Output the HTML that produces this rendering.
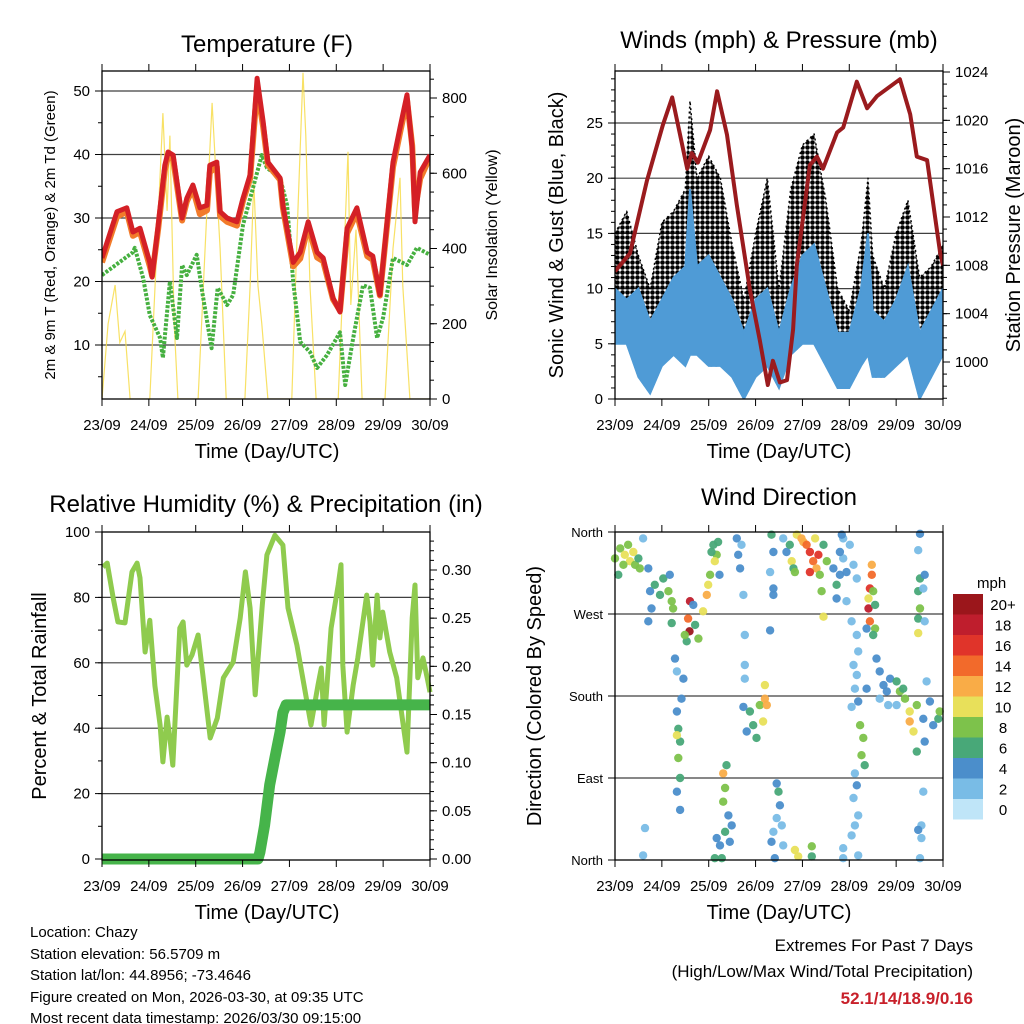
<!DOCTYPE html>
<html><head><meta charset="utf-8">
<style>
html,body{margin:0;padding:0;background:#fff;}
svg{display:block;font-family:"Liberation Sans",Arial,sans-serif;}
</style></head>
<body>
<svg id="chart" width="1024" height="1024" viewBox="0 0 1024 1024" xmlns="http://www.w3.org/2000/svg">
<defs>
<pattern id="dots" width="5" height="5" patternUnits="userSpaceOnUse"><circle cx="2.5" cy="2.5" r="2.3" fill="#000"/></pattern>
</defs>
<rect x="0" y="0" width="1024" height="1024" fill="#fff"/>
<g id="g1"></g>
<g id="g2"></g>
<g id="g3"></g>
<g id="g4"></g>
<g id="info" font-size="15" fill="#000">
<text x="30" y="937">Location: Chazy</text>
<text x="30" y="959">Station elevation: 56.5709 m</text>
<text x="30" y="980">Station lat/lon: 44.8956; -73.4646</text>
<text x="30" y="1002">Figure created on Mon, 2026-03-30, at 09:35 UTC</text>
<text x="30" y="1023">Most recent data timestamp: 2026/03/30 09:15:00</text>
</g>
<g id="extremes" text-anchor="end" font-size="17">
<text x="973" y="951">Extremes For Past 7 Days</text>
<text x="973" y="977">(High/Low/Max Wind/Total Precipitation)</text>
<text x="973" y="1004" fill="#c8202a" font-weight="bold">52.1/14/18.9/0.16</text>
</g>
</svg>
<script>
// ---------- data ----------
const dayLabels = ["23/09","24/09","25/09","26/09","27/09","28/09","29/09","30/09"];
// Temperature
const tempTime = [0,0.32,0.53,0.66,0.81,1.02,1.07,1.2,1.34,1.41,1.52,1.71,1.81,1.94,2.09,2.24,2.3,2.45,2.52,2.67,2.88,3.01,3.16,3.31,3.44,3.54,3.8,3.86,4.08,4.23,4.4,4.59,4.72,4.93,5.08,5.23,5.44,5.66,5.78,5.93,6.21,6.36,6.51,6.62,6.68,6.79,7];
const temp2m = [23.7,31,31.6,27.8,28.4,23,20.7,28.9,38.3,40.4,39.9,30,33.1,35.2,31.6,32,38.3,38.8,31,30,29.4,33.1,36.8,52,45.1,38.8,36.3,32,23,24.6,29.4,24.6,23.7,17.4,15.2,28.4,31.6,24.6,24,17.9,38.8,44.2,49.4,41,29.4,37.2,39.9];
const temp9m = [23,30.2,31,27.2,27.8,22.4,20.9,28.3,37.5,39.8,39.2,29.6,32.6,34.6,30.6,31.2,37.2,38.1,30.3,29.4,28.8,32.7,36.2,50.5,44.3,38.4,36,31.6,22.4,23.6,28.7,23.8,23.2,17.2,15.4,27.6,30.8,24,23.4,17.8,38,43.4,48.6,41.4,31.2,36.2,39.6];
const dewTime = [0,0.66,0.7,0.88,1.02,1.24,1.3,1.45,1.6,1.71,1.81,2.02,2.15,2.34,2.47,2.67,2.8,3.01,3.22,3.41,3.52,3.8,3.95,4.08,4.23,4.44,4.59,4.8,5.08,5.19,5.36,5.57,5.72,5.87,6.0,6.21,6.51,6.72,7];
const dewPt = [21,24.6,25.3,20.5,14.7,11.1,8,20,11.1,22.6,21,24.2,17.9,9.5,19,16.3,17.9,28.9,34.7,39.9,37.9,36.3,32,20,10.5,8.9,6.4,8.4,12,3.7,11.1,19.4,19,11.1,14.3,23.7,22.6,25.3,24.2];
const solarTime = [0,0.13,0.28,0.38,0.49,0.6,1.02,1.17,1.3,1.39,1.45,1.54,1.62,2.05,2.2,2.35,2.43,2.52,2.65,3.05,3.16,3.24,3.33,3.41,3.54,4.05,4.18,4.29,4.35,4.44,4.57,5.04,5.14,5.25,5.31,5.42,5.55,6.04,6.21,6.36,6.42,6.57,7];
const solarVal = [0,200,303,150,180,0,0,400,760,500,700,200,0,0,400,787,600,400,0,0,300,577,300,200,0,0,500,867,700,300,0,0,300,657,250,450,0,0,400,588,300,0,0];
const tempTicks = [10,20,30,40,50];
const solarTicks = [0,200,400,600,800];
// Winds & pressure
const windTime = [0,0.25,0.5,0.75,1.0,1.25,1.5,1.6,1.75,2.0,2.25,2.5,2.75,3.0,3.25,3.5,3.75,4.0,4.25,4.5,4.75,5.0,5.25,5.4,5.5,5.75,6.0,6.25,6.5,6.75,7.0];
const windLow = [5,5,2,0.5,3,4,3,4,4,3,3,2,0,2,3,1,4,5,5,3,1,1,3,4,2,2,3,4,0,2,4];
const windHigh = [10,9,10,7,9,11,12,19,12,13,11,9,6,9,10,6,10,13,14,10,6,6,10,15,8,7,9,12,6,8,10];
const gustHigh = [15,17,13,10,16,17,19,27,20,22,20,14,9,15,20,10,19,23,24,18,10,8,14,20,13,10,15,18,11,12,14];
const presTime = [0,0.32,0.68,1.02,1.22,1.54,1.64,1.77,2.03,2.18,2.39,2.6,2.88,3.09,3.26,3.37,3.52,3.67,3.8,3.88,4.16,4.31,4.44,4.74,4.87,5.16,5.38,5.59,6.08,6.3,6.44,6.66,6.94,7];
const pressure = [1007.5,1009,1015,1019.6,1021.9,1016,1017.3,1016.5,1019.2,1022.4,1018.8,1013,1006,1001.8,998.1,1000.1,998.3,998.5,1002.7,1008,1016.3,1017,1016,1019,1019.4,1023.2,1021,1022,1023.4,1020.5,1017,1016.7,1009,1008];
const windTicks = [0,5,10,15,20,25];
const presTicks = [1000,1004,1008,1012,1016,1020,1024];
// RH & precip
const rhTime = [0.02,0.11,0.24,0.34,0.49,0.64,0.75,0.81,0.92,1.02,1.13,1.24,1.3,1.39,1.45,1.51,1.66,1.73,1.81,1.92,2.05,2.16,2.31,2.46,2.59,2.8,2.95,3.06,3.16,3.27,3.42,3.52,3.69,3.86,3.97,4.16,4.31,4.46,4.61,4.68,4.74,4.89,5.04,5.1,5.14,5.23,5.36,5.46,5.65,5.72,5.78,5.87,5.93,5.99,6.14,6.29,6.42,6.51,6.62,6.68,6.74,6.85,6.94,7];
const rhVal = [89.3,90.5,79.8,72.5,72.2,87.8,90.5,86,63.3,73,53,41,29.7,43.4,37,28.7,70.6,72.5,59.3,62.4,68.5,55.4,37,43.1,55.4,60.2,73.7,87.8,76.8,50.2,77.7,93,99,96,76.8,65.4,53.2,41,53.2,58.4,41,70.6,83.8,90,59.3,38.8,53.2,61.5,80.7,72.5,59.3,80.7,67.6,75.5,63.3,55.4,41.9,32.7,73.7,83.8,55.4,61.5,55.4,51];
const precTime = [0,3.33,3.37,3.47,3.58,3.69,3.8,3.86,3.93,7];
const precVal = [0,0,0.007,0.035,0.077,0.105,0.132,0.152,0.16,0.16];
const rhTicks = [0,20,40,60,80,100];
const precTicks = [0,0.05,0.1,0.15,0.2,0.25,0.3];
// Wind direction
const dirTime = [0,0.11,0.21,0.28,0.32,0.43,0.5,0.07,0.18,0.39,0.53,0.6,
0.71,0.75,0.78,0.71,0.85,0.96,1.03,1.14,1.21,1.24,1.17,1.21,
1.6,1.56,1.59,1.53,1.71,1.78,1.88,1.96,1.99,2.03,1.67,1.49,
1.28,1.32,1.46,1.42,1.32,1.35,1.39,1.35,1.39,1.32,1.39,1.32,0.64,0.6,
2.1,2.17,2.13,2.2,2.23,2.06,
2.31,2.38,2.35,2.31,2.42,2.49,2.17,2.24,2.35,2.45,2.13,2.28,
2.6,2.63,2.67,2.7,2.74,2.77,2.77,2.77,
2.88,2.95,3.02,3.09,3.2,3.24,3.16,3.2,2.81,2.74,
3.45,3.49,3.52,3.45,3.38,3.56,3.59,3.41,3.34,
3.34,3.38,3.59,3.66,3.77,3.81,3.73,3.31,3.38,3.38,3.31,
3.88,4.02,4.09,4.16,4.23,4.3,4.37,4.16,4.34,4.45,4.52,4.41,4.45,4.27,3.98,3.84,
4.66,4.73,4.8,4.87,4.94,5.01,4.87,4.84,5.09,4.73,4.94,4.8,5.16,
5.05,5.16,5.19,5.09,5.16,5.12,5.19,5.05,5.23,5.3,5.26,5.33,5.12,5.16,5.09,5.19,5.12,5.05,5.19,4.87,5.37,
5.48,5.48,5.44,5.41,5.41,5.51,5.44,5.55,5.51,5.37,5.55,
5.58,5.65,5.73,5.8,5.87,6.01,6.08,6.15,6.19,6.01,5.65,6.29,6.29,6.37,6.44,6.58,6.72,6.79,6.9,6.93,6.65,6.44,6.61,5.83,
6.51,6.47,6.51,6.47,6.51,6.47,6.47,6.61,6.58,6.61,
3.84,3.91,4.2,4.2,
6.58,6.54,6.47,6.54,6.51,4.87];
const dirDeg = [331,342,335,346,328,324,331,313,324,338,320,353,
320,295,276,262,302,291,309,295,284,276,313,260,
284,265,251,240,258,243,273,291,302,313,280,247,
221,207,199,177,163,144,130,112,90,75,55,137,35,5,
346,335,328,349,313,338,
95,104,79,64,49,38,24,16,31,20,2,2,
353,335,320,346,291,247,214,199,
163,148,134,170,177,170,152,192,141,168,
84,75,60,46,31,38,16,2,20,
357,338,353,338,328,320,346,316,298,291,252,
357,349,346,338,328,320,313,316,335,346,328,295,267,353,353,316,
320,302,313,331,316,346,353,357,324,287,284,338,309,
262,247,229,214,203,188,174,168,148,134,115,104,95,82,68,49,38,27,5,13,188,
324,313,298,287,276,295,262,254,247,254,280,
221,207,192,185,199,196,185,188,177,170,177,163,152,141,170,155,174,148,155,163,196,119,130,170,
358,340,309,295,276,265,249,262,298,313,
11,4,15,4,
75,38,33,24,2,2];
const dirSpeed = [8,8,10,8,10,8,6,6,8,10,8,2,
4,4,4,4,6,6,6,8,8,8,4,6,
18,14,20,6,6,8,10,12,10,8,4,8,
4,2,4,4,4,6,6,8,6,4,4,10,2,2,
6,8,10,6,4,6,
12,6,8,8,4,4,4,4,6,4,6,6,
4,4,4,2,2,2,2,2,
6,6,6,8,12,12,10,10,4,4,
4,6,4,2,2,2,2,4,4,
6,4,2,4,10,6,6,2,4,4,4,
10,12,14,16,14,12,8,16,16,6,8,8,10,10,12,8,
4,6,4,2,4,2,2,4,2,4,2,4,2,
2,2,2,2,2,2,4,2,8,8,8,6,2,4,2,2,2,2,2,2,4,
12,14,16,10,18,8,14,8,6,4,6,
4,4,4,4,4,6,8,6,8,2,2,10,12,10,8,4,4,4,6,8,2,6,4,2,
4,2,6,6,8,6,10,2,2,4,
10,10,8,6,
2,2,4,2,2,2];
const dirTickLabels = ["North","East","South","West","North"];
const dirTickVals = [0,90,180,270,360];
const speedLabels = ["20+","18","16","14","12","10","8","6","4","2","0"];
const speedColors = ["#9b161b","#bf1e2d","#e0342a","#f26a2b","#f9ac47","#e8e05a","#7dc24b","#48a878","#4b8ecb","#79bce6","#bfe5f8"];

// ---------- helpers ----------
const NS = "http://www.w3.org/2000/svg";
function mk(parent, tag, attrs, text){
  const e = document.createElementNS(NS, tag);
  for (const k in attrs) e.setAttribute(k, attrs[k]);
  if (text !== undefined) e.textContent = text;
  parent.appendChild(e);
  return e;
}
function lin(d0,d1,r0,r1){ return v => r0 + (v-d0)/(d1-d0)*(r1-r0); }
function pathOf(xs, ys){ return xs.map((x,i)=>(i?"L":"M")+x.toFixed(1)+","+ys[i].toFixed(1)).join(""); }

function frame(g, L, T, R, B, xs){
  dayLabels.forEach((lab,i)=>{
    const x = xs(i);
    const t1 = mk(g,"line",{x1:x,y1:B,x2:x,y2:B+7,stroke:"#000","stroke-width":1});
    
    
    const t2 = mk(g,"line",{x1:x,y1:T,x2:x,y2:T-7,stroke:"#000","stroke-width":1});
    
    
    const tl = mk(g,"text",{x:x,y:B+31,"text-anchor":"middle","font-size":15},lab);
    
    
  });
}
function box(g,L,T,R,B){
  const r = mk(g,"rect",{x:L,y:T,width:R-L,height:B-T,fill:"none",stroke:"#000","stroke-width":1.3});
  
  
}
function grid(g, L, R, ys, vals){
  vals.forEach(v=>{
    const l = mk(g,"line",{x1:L,x2:R,y1:ys(v),y2:ys(v),stroke:"#000","stroke-width":1.2,opacity:0.75});
    
    
  });
}
function yTicks(g, x, ys, ticks, minorStep, lo, hi, side, fmt){
  const dir = side==="left" ? -1 : 1;
  for (let v = Math.ceil(lo/minorStep)*minorStep; v <= hi+1e-9; v += minorStep){
    const y = ys(v);
    const mt = mk(g,"line",{x1:x,x2:x+dir*4,y1:y,y2:y,stroke:"#000","stroke-width":1});
    
    
  }
  ticks.forEach(v=>{
    const y = ys(v);
    const t = mk(g,"line",{x1:x,x2:x+dir*7,y1:y,y2:y,stroke:"#000","stroke-width":1});
    
    
    const tx = mk(g,"text",{x:x+dir*12,y:y+5,"text-anchor":side==="left"?"end":"start","font-size":15},fmt(v));
    
    
  });
}
function vtitle(g, x, y, txt, size, name){
  const t = mk(g,"text",{x:0,y:0,transform:`translate(${x},${y}) rotate(-90)`,"text-anchor":"middle","font-size":size},txt);
  
  
}
function htitle(g,x,y,txt,size,name){
  const t = mk(g,"text",{x:x,y:y,"text-anchor":"middle","font-size":size},txt);
  
  
}

// ---------- Panel 1: Temperature ----------
(function(){
  const g = document.getElementById("g1");
  const L=102,R=430,T=71,B=399;
  const xs = lin(0,7,L,R);
  const ys = lin(10,50,345,91);
  const ys2 = lin(0,800,399,98);
  grid(g,L,R,ys,tempTicks);
  const cp = mk(g,"clipPath",{id:"c1"}); mk(cp,"rect",{x:L,y:T,width:R-L,height:B-T});
  const d = mk(g,"g",{"clip-path":"url(#c1)"});
  const sp = mk(d,"path",{d:pathOf(solarTime.map(xs),solarVal.map(ys2)),fill:"none",stroke:"#f7dc4a","stroke-width":1.2,opacity:0.85});
  
  
  const dp = mk(d,"path",{d:pathOf(dewTime.map(xs),dewPt.map(ys)),fill:"none",stroke:"#46b040","stroke-width":4,"stroke-dasharray":"3 1.5","stroke-linejoin":"round"});
  
  
  const op = mk(d,"path",{d:pathOf(tempTime.map(xs),temp9m.map(ys)),fill:"none",stroke:"#f27b2a","stroke-width":6,"stroke-linejoin":"round"});
  
  
  const rp = mk(d,"path",{d:pathOf(tempTime.map(xs),temp2m.map(ys)),fill:"none",stroke:"#d42026","stroke-width":5,"stroke-linejoin":"round"});
  
  
  box(g,L,T,R,B);
  frame(g,L,T,R,B,xs);
  yTicks(g,L,ys,tempTicks,5,1.5,53,"left",v=>String(v));
  yTicks(g,R,ys2,solarTicks,50,0,860,"right",v=>String(v));
  htitle(g,267,52,"Temperature (F)",24,"temperature-title");
  htitle(g,267,458,"Time (Day/UTC)",20,"x-axis-title");
  vtitle(g,55,235,"2m & 9m T (Red, Orange) & 2m Td (Green)",15,"y-axis-title-left");
  vtitle(g,497,235,"Solar Insolation (Yellow)",16,"y-axis-title-right");
})();

// ---------- Panel 2: Winds ----------
(function(){
  const g = document.getElementById("g2");
  const L=615,R=943,T=71,B=399;
  const xs = lin(0,7,L,R);
  const ys = lin(0,25,399,123);
  const ys2 = lin(1000,1024,362,72);
  grid(g,L,R,ys,windTicks.slice(1));
  const cp = mk(g,"clipPath",{id:"c2"}); mk(cp,"rect",{x:L,y:T,width:R-L,height:B-T});
  const d = mk(g,"g",{"clip-path":"url(#c2)"});
  const tx = windTime.map(xs);
  const gp = mk(d,"path",{d:pathOf(tx,gustHigh.map(ys))+pathOf(tx.slice().reverse(),windLow.map(ys).reverse()).replace("M","L")+"Z",fill:"url(#dots)",stroke:"#000","stroke-width":1.5,"stroke-dasharray":"2 3","stroke-linejoin":"round"});
  
  
  const wp = mk(d,"path",{d:pathOf(tx,windHigh.map(ys))+pathOf(tx.slice().reverse(),windLow.map(ys).reverse()).replace("M","L")+"Z",fill:"#4f9bd6",stroke:"#4f9bd6","stroke-width":2});
  
  
  const pp = mk(d,"path",{d:pathOf(presTime.map(xs),pressure.map(ys2)),fill:"none",stroke:"#9a1b1e","stroke-width":4,"stroke-linejoin":"round"});
  
  
  box(g,L,T,R,B);
  frame(g,L,T,R,B,xs);
  yTicks(g,L,ys,windTicks,1,0,29.7,"left",v=>String(v));
  yTicks(g,R,ys2,presTicks,1,997,1024,"right",v=>String(v));
  htitle(g,779,48,"Winds (mph) & Pressure (mb)",24,"winds-title");
  htitle(g,779,458,"Time (Day/UTC)",20,"x-axis-title");
  vtitle(g,563,235,"Sonic Wind & Gust (Blue, Black)",20,"y-axis-title-left");
  vtitle(g,1020,235,"Station Pressure (Maroon)",20,"y-axis-title-right");
})();

// ---------- Panel 3: RH & precip ----------
(function(){
  const g = document.getElementById("g3");
  const L=102,R=430,T=532,B=860;
  const xs = lin(0,7,L,R);
  const ys = lin(0,100,859,532);
  const ys2 = lin(0,0.3,859,570);
  grid(g,L,R,ys,[20,40,60,80]);
  const cp = mk(g,"clipPath",{id:"c3"}); mk(cp,"rect",{x:L,y:T-2,width:R-L+6,height:B-T+8});
  const d = mk(g,"g",{"clip-path":"url(#c3)"});
  const rp = mk(d,"path",{d:pathOf(rhTime.map(xs),rhVal.map(ys)),fill:"none",stroke:"#8fcb4e","stroke-width":5,"stroke-linejoin":"round"});
  
  
  const pp = mk(d,"path",{d:pathOf(precTime.map(xs),precVal.map(ys2)),fill:"none",stroke:"#46b44a","stroke-width":11,"stroke-linejoin":"round"});
  
  
  box(g,L,T,R,B);
  frame(g,L,T,R,B,xs);
  yTicks(g,L,ys,rhTicks,10,0,100,"left",v=>String(v));
  yTicks(g,R,ys2,precTicks,0.01,0,0.335,"right",v=>v.toFixed(2));
  htitle(g,266,512,"Relative Humidity (%) & Precipitation (in)",24,"humidity-title");
  htitle(g,267,919,"Time (Day/UTC)",20,"x-axis-title");
  vtitle(g,46,696,"Percent & Total Rainfall",20,"y-axis-title-left");
})();

// ---------- Panel 4: Wind direction ----------
(function(){
  const g = document.getElementById("g4");
  const L=615,R=943,T=532,B=860;
  const xs = lin(0,7,L,R);
  const ys = lin(0,360,860,532);
  grid(g,L,R,ys,[90,180,270]);
  const d = mk(g,"g",{});
  dirTime.forEach((t,i)=>{
    const s = dirSpeed[i];
    const bin = s>=20?0:10-Math.floor(s/2);
    const c = mk(d,"circle",{cx:xs(t).toFixed(1),cy:ys(dirDeg[i]).toFixed(1),r:4.2,fill:speedColors[bin],opacity:0.95});
    
    
  });
  box(g,L,T,R,B);
  frame(g,L,T,R,B,xs);
  dirTickVals.forEach((v,i)=>{
    const y = ys(v);
    const t = mk(g,"line",{x1:L,x2:L-7,y1:y,y2:y,stroke:"#000"});
    
    
    const l = mk(g,"text",{x:L-12,y:y+5,"text-anchor":"end","font-size":13},dirTickLabels[i]);
    
    
  });
  htitle(g,779,505,"Wind Direction",24,"wind-direction-title");
  htitle(g,779,919,"Time (Day/UTC)",20,"x-axis-title");
  vtitle(g,541,696,"Direction (Colored By Speed)",20,"y-axis-title-left");
  const cb = mk(g,"g",{});
  
  
  const ml = mk(cb,"text",{x:977,y:588,"text-anchor":"start","font-size":15},"mph");
  
  
  speedLabels.forEach((lab,i)=>{
    const y0 = 594 + i*20.5;
    const r = mk(cb,"rect",{x:953,y:y0,width:30,height:20.5,fill:speedColors[i]});
    
    
    const t = mk(cb,"text",{x:1003,y:y0+16,"text-anchor":"middle","font-size":15},lab);
    
    
  });
})();
</script>
</body></html>
